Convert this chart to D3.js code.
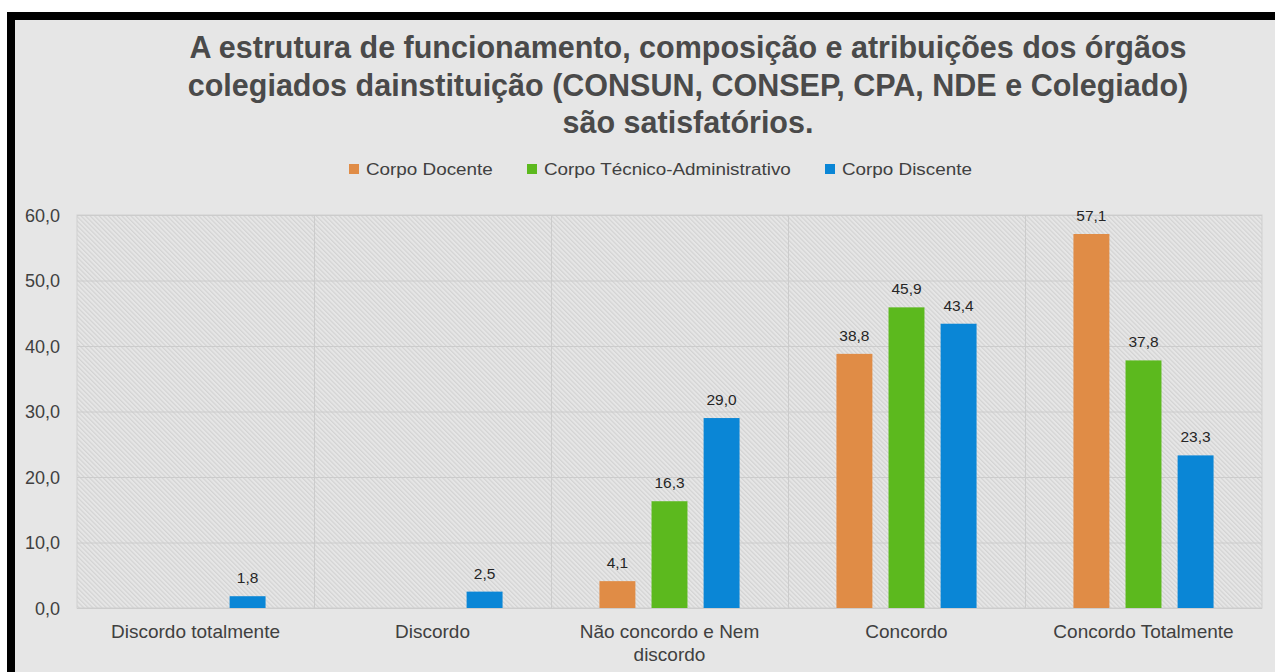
<!DOCTYPE html>
<html>
<head>
<meta charset="utf-8">
<script src="https://d3js.org/d3.v7.min.js"></script>
<style>
  body { margin: 0; background: #fff; }
  text { font-family: 'Liberation Sans', Arial, sans-serif; }
</style>
</head>
<body>
<script>
// data
var categories = ['Discordo totalmente', 'Discordo', 'Não concordo e Nem discordo', 'Concordo', 'Concordo Totalmente'];
var series = ['Corpo Docente', 'Corpo Técnico-Administrativo', 'Corpo Discente'];
var docente = [null, null, 4.1, 38.8, 57.1];
var tecnico = [null, null, 16.3, 45.9, 37.8];
var discente = [1.8, 2.5, 29.0, 43.4, 23.3];
var yTicks = [0, 10, 20, 30, 40, 50, 60];
var titleLines = [
  'A estrutura de funcionamento, composição e atribuições dos órgãos',
  'colegiados dainstituição (CONSUN, CONSEP, CPA, NDE e Colegiado)',
  'são satisfatórios.'
];
var colors = ['#e08c46', '#5cb91e', '#0a86d6'];

var W = 1275, H = 672;
var margin = {left: 77, right: 13, top: 215, bottom: 64};

var svg = d3.select('body').append('svg')
  .attr('width', W)
  .attr('height', H);

// hatch pattern for the plot area (lines running top-left to bottom-right)
var defs = svg.append('defs');
var pat = defs.append('pattern')
  .attr('id', 'hatch')
  .attr('patternUnits', 'userSpaceOnUse')
  .attr('width', 3.2)
  .attr('height', 3.2)
  .attr('patternTransform', 'rotate(-45)');
pat.append('rect').attr('width', 3.2).attr('height', 3.2).attr('fill', '#e6e6e6');
pat.append('rect').attr('width', 1.2).attr('height', 3.2).attr('fill', '#d3d3d3');

// chart frame
svg.append('rect')
  .attr('x', 11).attr('y', 16)
  .attr('width', W + 20).attr('height', H + 20)
  .attr('fill', '#e6e6e6')
  .attr('stroke', '#000')
  .attr('stroke-width', 8);

// title
svg.append('g').selectAll('text').data(titleLines).enter().append('text')
  .attr('x', 688)
  .attr('y', function(d, i) { return 58 + i * 37.5; })
  .attr('text-anchor', 'middle')
  .attr('font-size', 30.5)
  .attr('font-weight', 'bold')
  .attr('fill', '#4a4a4a')
  .text(function(d) { return d; });

// legend
var legendX = [349, 527, 825];
var legend = svg.append('g').selectAll('g').data(series).enter().append('g')
  .attr('transform', function(d, i) { return 'translate(' + legendX[i] + ',175)'; });
legend.append('rect')
  .attr('x', 0).attr('y', -11)
  .attr('width', 10).attr('height', 10)
  .attr('fill', function(d, i) { return colors[i]; });
legend.append('text')
  .attr('transform', 'translate(17,0) scale(1.11,1)')
  .attr('font-size', 17)
  .attr('fill', '#404040')
  .text(function(d) { return d; });

var x0 = d3.scaleBand().domain(categories).range([margin.left, W - margin.right]);
var x1 = d3.scaleBand().domain(series).range([0, x0.bandwidth()])
  .paddingInner(0.31).paddingOuter(0.93);
var y = d3.scaleLinear().domain([0, 60]).range([H - margin.bottom, margin.top]);

// plot area
svg.append('rect')
  .attr('x', x0.range()[0]).attr('y', y(60))
  .attr('width', x0.range()[1] - x0.range()[0])
  .attr('height', y(0) - y(60))
  .attr('fill', 'url(#hatch)')
  .attr('stroke', '#cfcfcf');

// gridlines
svg.append('g').selectAll('line').data(yTicks).enter().append('line')
  .attr('x1', x0.range()[0]).attr('x2', x0.range()[1])
  .attr('y1', function(d) { return y(d) + 0.5; })
  .attr('y2', function(d) { return y(d) + 0.5; })
  .attr('stroke', '#cccccc');
svg.append('g').selectAll('line').data(categories.slice(1)).enter().append('line')
  .attr('x1', function(d) { return Math.round(x0(d)) + 0.5; })
  .attr('x2', function(d) { return Math.round(x0(d)) + 0.5; })
  .attr('y1', y(60)).attr('y2', y(0))
  .attr('stroke', '#cccccc');

// y axis labels
var yAxis = svg.append('g')
  .attr('transform', 'translate(60,0)')
  .call(d3.axisLeft(y).tickValues(yTicks).tickSize(0).tickPadding(0)
    .tickFormat(function(d) { return d3.format('.1f')(d).replace('.', ','); }));
yAxis.select('.domain').remove();
yAxis.selectAll('text')
  .attr('font-size', 18)
  .attr('fill', '#404040')
  .attr('font-family', "'Liberation Sans', Arial, sans-serif")
  .attr('dy', '0.36em');

// x axis labels (wrapped)
var xLabels = svg.append('g').selectAll('text').data(categories).enter().append('text')
  .attr('x', function(d) { return x0(d) + x0.bandwidth() / 2; })
  .attr('y', 638)
  .attr('text-anchor', 'middle')
  .attr('font-size', 19)
  .attr('fill', '#404040');
xLabels.each(function(d) {
  var lines = d === 'Não concordo e Nem discordo' ? ['Não concordo e Nem', 'discordo'] : [d];
  var t = d3.select(this);
  lines.forEach(function(l, i) {
    t.append('tspan')
      .attr('x', x0(d) + x0.bandwidth() / 2)
      .attr('dy', i === 0 ? 0 : 22.5)
      .text(l);
  });
});

// bars
var rows = categories.map(function(c, i) {
  return {cat: c, vals: [docente[i], tecnico[i], discente[i]]};
});
var groups = svg.append('g').selectAll('g').data(rows).enter().append('g')
  .attr('transform', function(d) { return 'translate(' + x0(d.cat) + ',0)'; });
var cells = groups.selectAll('g').data(function(d) {
  return d.vals.map(function(v, j) { return {s: series[j], v: v, j: j}; })
    .filter(function(e) { return e.v !== null; });
}).enter().append('g');
cells.append('rect')
  .attr('x', function(d) { return x1(d.s); })
  .attr('y', function(d) { return y(d.v); })
  .attr('width', x1.bandwidth())
  .attr('height', function(d) { return y(0) - y(d.v); })
  .attr('fill', function(d) { return colors[d.j]; });
cells.append('text')
  .attr('x', function(d) { return x1(d.s) + x1.bandwidth() / 2; })
  .attr('y', function(d) { return y(d.v) - 13; })
  .attr('text-anchor', 'middle')
  .attr('font-size', 15.5)
  .attr('fill', '#262626')
  .text(function(d) { return d3.format('.1f')(d.v).replace('.', ','); });
</script>
</body>
</html>
